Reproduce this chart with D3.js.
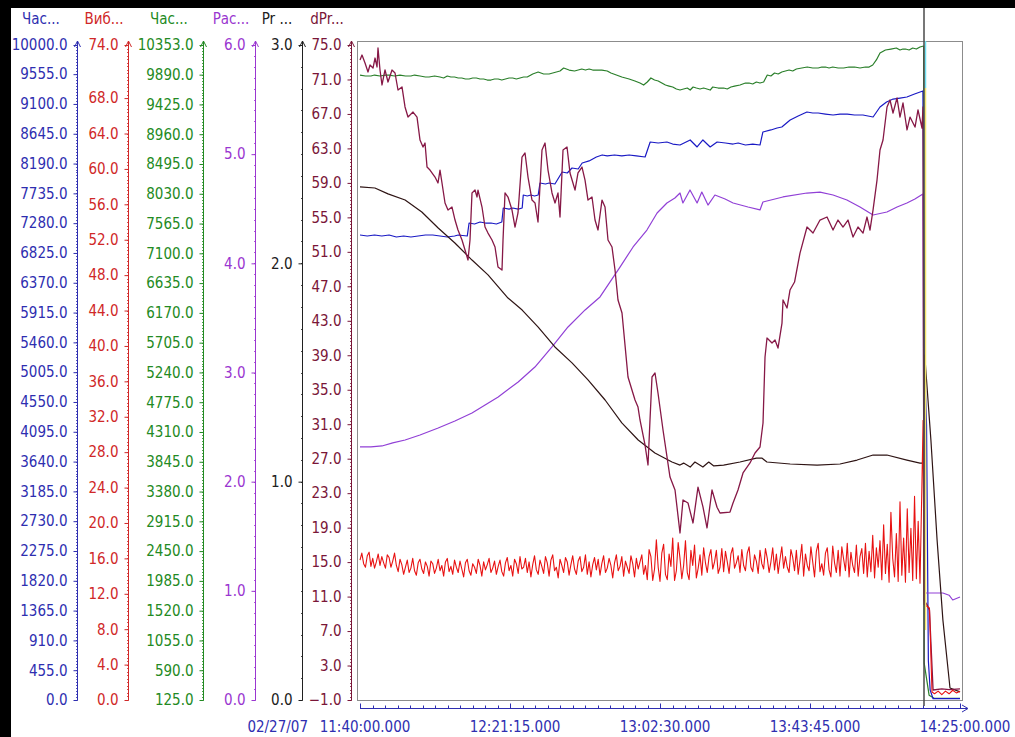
<!DOCTYPE html>
<html><head><meta charset="utf-8">
<script src="https://cdn.jsdelivr.net/npm/d3@7"></script>
<style>
body{margin:0;background:#fff;}
svg{display:block;}
text{font-family:"DejaVu Sans Condensed","Liberation Sans Narrow","DejaVu Sans",sans-serif;}
</style>
</head><body><svg id="c" width="1015" height="737"></svg>
<script>
// ---------------- DATA ----------------
const dateLabel = "02/27/07";
const startTime = [2007, 1, 27, 11, 40, 0];
const endTime = [2007, 1, 27, 14, 25, 0];
const xTickMinutes = [0, 41.25, 82.5, 123.75, 165];
const xTickLabels = ["11:40:00.000", "12:21:15.000", "13:02:30.000", "13:43:45.000", "14:25:00.000"];
const xMinorStep = 3.4375;
const cursorMinute = 155.1;

const axisNames = ["Час...", "Виб...", "Час...", "Рас...", "Pr ...", "dPr..."];
const axisDomains = [[0, 10000], [0, 74], [125, 10353], [0, 6], [0, 3], [-1, 75]];
const axisTicks = [
  [0,455,910,1365,1820,2275,2730,3185,3640,4095,4550,5005,5460,5915,6370,6825,7280,7735,8190,8645,9100,9555,10000],
  [0,4,8,12,16,20,24,28,32,36,40,44,48,52,56,60,64,68,74],
  [125,590,1055,1520,1985,2450,2915,3380,3845,4310,4775,5240,5705,6170,6635,7100,7565,8030,8495,8960,9425,9890,10353],
  [0,1,2,3,4,5,6],
  [0,1,2,3],
  [-1,3,7,11,15,19,23,27,31,35,39,43,47,51,55,59,63,67,71,75]
];
const axisMinorSteps = [45.5, 0.4, 46.5, 0.1, 0.1, 0.4];

// series: [minutes since 11:40, value]
const blueSeries = [[0,7099],[2,7084],[4,7099],[6,7084],[8,7099],[10,7069],[12,7084],[14,7069],[16,7084],[18,7099],[20,7099],[22,7084],[24,7069],[26,7084],[27,7099],[29.5,7084],[30,7282],[31.5,7267],[33,7298],[34.5,7282],[36,7282],[37.5,7267],[39,7298],[39.4,7511],[41,7495],[42,7511],[43.5,7495],[44.6,7511],[44.9,7710],[46,7695],[47,7710],[48,7695],[49,7710],[49.5,7893],[51,7878],[52,7893],[53.6,7878],[55.6,8061],[57,8046],[58.3,8122],[60,8107],[61.1,8198],[63,8230],[65,8290],[66.6,8321],[68,8306],[70,8321],[72,8306],[74,8321],[76,8306],[78.4,8290],[79.8,8519],[82,8504],[84.4,8519],[86,8488],[88,8473],[90.8,8550],[92.7,8443],[94.3,8550],[96.3,8443],[98.2,8519],[100.5,8504],[102.6,8488],[104,8504],[106,8473],[108,8488],[110,8473],[110.8,8672],[113,8703],[114.7,8733],[116,8748],[118.3,8855],[120.5,8916],[122.9,8977],[124.5,8962],[126,8962],[128,8946],[130.1,8931],[132,8946],[134,8946],[136,8931],[138.3,8931],[141.1,8901],[143,9053],[144.8,9130],[146.6,9175],[148.5,9190],[150.4,9206],[152.5,9252],[154.8,9298],
  [155.15,5340],[155.8,4200],[156.3,600],[156.8,150],[157.6,20],[165,20]];

const redStep = 0.5;
const redValues = [
 15.8,16.6,15.4,15.0,16.3,16.7,15.1,16.0,14.9,15.6,16.5,15.2,16.2,15.5,14.9,16.4,16.1,15.0,15.7,16.6,
 15.2,14.5,15.9,15.3,14.2,15.0,15.8,14.4,14.9,16.0,14.6,14.1,15.5,15.9,14.8,14.3,15.6,15.1,14.0,15.7,
 15.4,14.3,14.9,15.9,14.6,15.2,14.0,15.6,16.0,14.5,15.1,14.2,15.8,15.0,14.4,15.7,14.8,13.9,15.5,15.9,
 14.6,14.1,15.4,15.0,14.3,15.9,15.2,14.0,15.6,14.7,15.3,16.0,14.4,14.9,15.7,14.2,15.1,15.8,14.5,14.0,
 15.5,16.1,14.6,15.2,14.0,15.9,15.4,14.3,16.2,14.8,15.0,16.0,14.4,15.6,13.9,15.3,16.3,14.7,14.2,15.8,
 15.1,14.3,16.2,15.5,14.0,15.8,16.4,14.6,15.0,13.8,15.9,15.2,14.4,16.1,15.6,14.1,15.3,16.3,14.8,14.2,
 15.7,16.2,14.5,15.0,16.4,14.2,15.6,13.9,15.3,16.1,14.7,15.9,14.1,15.4,16.3,14.4,14.9,16.0,15.2,13.8,
 15.5,16.4,14.6,15.1,16.2,14.0,15.7,15.0,14.3,16.3,15.4,13.9,16.0,14.8,15.6,16.4,14.2,15.2,13.6,17.0,
 16.2,13.5,14.8,18.1,15.0,13.4,16.6,17.6,14.2,13.6,16.5,15.1,18.3,13.5,14.6,17.8,16.0,13.7,15.2,18.0,
 14.4,13.6,16.9,15.2,17.5,13.8,14.9,16.4,14.1,17.2,15.5,14.4,16.2,17.0,14.8,15.6,16.9,14.3,15.0,17.1,
 14.5,16.8,15.6,14.3,16.5,17.2,14.9,15.5,16.3,14.4,17.0,15.2,14.6,16.6,17.3,15.0,14.5,16.4,15.7,14.3,
 16.9,15.4,14.8,17.1,16.0,14.4,15.6,17.2,14.7,16.5,14.3,15.9,17.3,14.9,16.2,15.0,14.4,17.0,16.1,14.6,
 16.9,14.2,15.8,17.6,14.0,16.5,15.2,14.6,17.3,15.6,13.9,16.8,17.7,14.5,15.4,14.1,16.6,17.2,14.7,13.9,
 17.4,15.5,14.4,16.9,14.0,17.3,15.9,14.6,17.7,13.9,16.7,15.2,14.4,17.5,14.0,16.2,17.1,14.3,17.7,13.9,
 16.8,14.5,18.6,13.8,17.2,15.0,18.0,13.6,19.8,14.3,17.6,13.3,21.2,16.0,13.9,18.8,13.4,22.4,14.1,18.3,
 13.3,21.6,14.4,19.4,13.5,23.0,13.7,20.2,13.2,23.7
];
const redTail = [[154.85,31.6],[155.1,10.8],[156.6,10.4],[157.3,0.9],[158,0.7],[159,1.0],[160,0.6],[161,1.0],[162,0.7],[163,1.1],[164,0.8],[165,1.0]];

const greenSeries = [[0,9884],[1.5,9869],[3,9869],[4,9884],[5.5,9869],[7,9884],[8,9884],[9.5,9869],[11,9884],[12.5,9869],[14,9869],[15,9884],[16.5,9869],[18,9853],[19,9853],[20.5,9869],[22,9853],[23,9838],[24,9869],[25,9853],[26,9853],[27,9838],[28,9838],[29,9822],[30,9822],[31,9838],[32,9838],[33,9822],[34,9822],[35,9806],[36,9806],[37,9822],[38,9822],[39,9806],[40,9822],[41,9838],[42,9838],[43,9822],[44,9838],[45,9853],[46,9853],[47.5,9900],[49,9931],[50.5,9900],[52,9900],[53,9916],[54,9931],[55,9947],[56,9994],[57.5,9962],[59,9947],[60,9962],[61,9978],[62,9962],[63,9978],[64,9962],[65,9962],[66.5,9962],[68,9947],[69,9916],[70.5,9884],[72,9853],[73,9838],[74,9822],[75.6,9791],[77,9759],[78,9728],[79,9775],[80,9838],[81,9806],[82,9791],[83,9759],[84,9728],[85,9712],[86,9697],[87,9666],[88,9650],[89,9666],[90,9681],[90.8,9650],[91.6,9697],[92.5,9681],[93.5,9666],[94.5,9681],[95.4,9666],[96.3,9650],[97,9697],[98.5,9681],[100,9681],[101,9666],[102,9697],[103,9712],[104.5,9728],[106,9759],[107,9759],[108,9744],[109,9775],[110,9759],[111,9775],[112,9884],[113,9869],[114,9916],[115,9900],[116,9931],[117,9947],[118,9962],[119,9947],[120,9978],[121.5,9994],[123,10009],[124.5,9994],[126,9994],[127,10009],[128,10009],[129,9994],[130,10009],[131.5,9994],[133,9994],[134.5,10009],[136,10009],[137.5,9994],[139,10009],[140,10009],[141,10041],[142,10120],[143,10228],[144.5,10275],[146,10290],[147.5,10306],[148.5,10275],[149.3,10290],[150,10290],[151,10275],[152,10306],[153,10290],[154,10322],[155,10337],
  [155.15,700],[156.5,200],[158,150],[165,150]];

const purpleSeries = [[0,2.318],[3,2.318],[6.05,2.327],[9,2.355],[12.4,2.382],[16.5,2.427],[21.5,2.492],[26.1,2.556],[30.8,2.629],[34.4,2.702],[38,2.776],[43.5,2.913],[48.1,3.050],[52.8,3.234],[57.2,3.417],[61.9,3.573],[66,3.692],[71.5,3.966],[75.1,4.150],[78.9,4.305],[81.7,4.461],[84.4,4.553],[86.6,4.598],[88,4.644],[88.8,4.553],[90.75,4.672],[92.7,4.553],[94,4.653],[95.7,4.534],[97.6,4.626],[100.4,4.589],[102.6,4.553],[106.7,4.516],[110,4.489],[110.8,4.562],[116.3,4.608],[122.9,4.644],[126.5,4.653],[130.1,4.626],[133.9,4.580],[137.5,4.516],[141.1,4.443],[144.9,4.470],[147.7,4.516],[150.4,4.553],[152.6,4.589],[154.8,4.635],
  [155.15,0.98],[160.3,0.98],[162,0.96],[163,0.916],[165,0.943]];

const prSeries = [[0,2.350],[4.1,2.345],[7.7,2.318],[12.4,2.290],[17,2.235],[21.5,2.162],[26.1,2.093],[30.8,2.015],[35.2,1.947],[40.7,1.841],[44.6,1.786],[49,1.708],[53.6,1.617],[58.3,1.544],[62.7,1.466],[67.4,1.374],[72,1.269],[76.5,1.191],[81.1,1.131],[85.8,1.090],[88,1.076],[89,1.085],[90.8,1.067],[92.1,1.090],[94.3,1.067],[95.9,1.090],[97.3,1.072],[100,1.076],[104.5,1.090],[109,1.108],[110.5,1.108],[111.9,1.090],[118.3,1.081],[125.7,1.076],[132,1.081],[136.7,1.099],[141.1,1.122],[144.9,1.122],[150.4,1.099],[154,1.085],[154.9,1.085],
  [155.3,1.580],[157,1.191],[158.7,0.733],[160.3,0.366],[162.25,0.055],[165,0.037]];

const dprSeries = [[0,73.26],[0.55,73.84],[1.38,72.91],[2.2,71.87],[2.75,72.68],[3.58,72.33],[4.13,73.49],[4.68,72.45],[4.95,74.65],[5.5,72.10],[6.05,70.36],[6.88,72.10],[7.7,70.71],[8.8,72.10],[9.63,71.75],[10.45,69.78],[11.55,70.13],[12.38,67.81],[13.2,66.64],[14.58,67.22],[15.68,66.64],[16.5,63.98],[17.33,63.16],[17.88,63.63],[18.43,60.84],[19.25,60.49],[20.63,59.68],[21.45,58.99],[22,60.49],[22.55,58.99],[23.38,56.67],[24.2,55.85],[25.3,56.20],[26.13,54.69],[26.95,53.53],[28.05,52.37],[28.88,51.21],[29.7,50.05],[30.25,52.37],[30.8,57.83],[31.63,58.17],[32.18,57.36],[32.45,58.17],[33.55,56.20],[34.38,53.88],[35.2,53.18],[36.3,52.37],[37.13,51.56],[37.95,49.24],[39.05,48.89],[39.33,52.37],[39.88,57.83],[40.7,57.36],[41.8,55.85],[42.63,53.88],[43.45,55.51],[44.55,62.00],[45.38,62.47],[46.2,59.68],[47.3,57.01],[48.13,56.67],[48.95,54.46],[50.05,62.82],[50.88,63.63],[51.7,60.49],[52.8,57.83],[53.63,56.67],[54.45,57.83],[55,55.04],[55.83,62.82],[56.93,63.16],[57.75,60.15],[59.13,58.17],[59.95,60.15],[61.05,60.84],[61.88,59.33],[62.7,57.01],[63.8,57.36],[64.63,54.69],[65.45,53.53],[66.55,57.01],[67.38,56.20],[68.2,52.37],[69.3,51.56],[70.13,48.89],[70.95,45.41],[72.05,43.90],[73.7,36.48],[75.63,33.81],[76.45,32.99],[77,31.49],[78.38,28.59],[79.2,26.27],[79.75,31.49],[80.3,36.48],[81.13,36.94],[81.95,34.62],[83.33,30.33],[85.25,24.87],[86.63,23.37],[88,18.38],[88.83,22.21],[90.2,21.86],[91.58,19.54],[92.95,23.71],[94.33,21.37],[95.43,18.96],[96.8,23.37],[98.18,21.37],[99,20.70],[101.75,20.81],[102.58,21.86],[103.95,23.37],[105.33,25.34],[107.25,26.50],[108.63,27.66],[110,28.36],[110.83,31.14],[111.38,38.80],[111.93,41.00],[113.3,40.42],[114.13,40.77],[114.95,39.84],[116.05,42.74],[116.33,45.41],[117.43,44.48],[118.25,46.57],[119.5,47.5],[121,50.86],[122.93,53.88],[124.58,53.18],[126.5,54.69],[128.43,55.04],[130.08,53.53],[131.45,54.69],[132.83,53.88],[134.2,54.69],[135.58,52.72],[136.95,53.88],[138.33,53.18],[139.43,55.04],[140.25,53.53],[141.08,55.85],[142.18,59.33],[143,62.82],[143.83,63.98],[144.93,67.81],[145.75,68.62],[146.58,67.11],[147.68,68.85],[148.5,66.64],[149.33,68.27],[150.43,65.14],[151.25,66.64],[152.63,65.48],[153.45,67.46],[154.55,65.37],[154.83,67.81],
  [155.1,10.60],[156,10.0],[156.6,9.4],[157.6,0.16],[160,0.3],[162,0.2],[165,0.3]];

// ---------------- LAYOUT / STYLE ----------------
const W = 1015, H = 737;
const plotLeft = 357.5, plotRight = 962.5, plotTop = 41.5, plotBottom = 700.5;
const xRange = [360, 960];
const yRange = [700, 45];
const axisX = [77, 128, 203, 255, 302, 351];
const headerX = [41, 104, 169, 231, 277, 327];
const axisColors = ["#2e2eb0", "#d02828", "#238a23", "#9a36d0", "#202020", "#7a1638"];
const fontSize = 15;

const svg = d3.select("#c");
svg.append("rect").attr("width", W).attr("height", H).attr("fill", "#fff");
svg.append("rect").attr("x", 0).attr("y", 0).attr("width", W).attr("height", 8).attr("fill", "#000");
svg.append("rect").attr("x", 0).attr("y", 0).attr("width", 11).attr("height", H).attr("fill", "#000");

const base = new Date(...startTime);
const x = d3.scaleTime().domain([base, new Date(...endTime)]).range(xRange);
const toDate = m => new Date(base.getTime() + m * 60000);

// plot frame
svg.append("rect").attr("x", plotLeft).attr("y", plotTop)
  .attr("width", plotRight - plotLeft).attr("height", plotBottom - plotTop)
  .attr("fill", "#fff").attr("stroke", "#8c8c8c").attr("stroke-width", 1);

// y axes
const yScales = axisDomains.map((dom, i) => {
  const y = d3.scaleLinear().domain(dom).range(yRange);
  const col = axisColors[i];
  const g = svg.append("g").attr("transform", `translate(${axisX[i] + 0.5},0)`);
  g.call(d3.axisLeft(y).tickValues(axisTicks[i]).tickFormat(d3.format(".1f"))
    .tickSizeInner(4).tickSizeOuter(0).tickPadding(6));
  g.attr("font-family", null).attr("font-size", null);
  g.select(".domain").remove();
  g.selectAll(".tick line").attr("stroke", col);
  g.selectAll(".tick text").attr("fill", col).style("font-size", fontSize + "px");
  const minors = d3.range(dom[0], dom[1] + 1e-9, axisMinorSteps[i]);
  g.selectAll(".mn").data(minors).join("line").attr("class", "mn")
    .attr("x1", -1.5).attr("x2", 0)
    .attr("y1", d => Math.round(y(d)) + 0.5).attr("y2", d => Math.round(y(d)) + 0.5)
    .attr("stroke", col).attr("stroke-width", 1).attr("stroke-opacity", 0.8);
  g.append("line").attr("x1", 0).attr("x2", 0).attr("y1", 41).attr("y2", 700.5)
    .attr("stroke", col).attr("stroke-width", 1);
  g.append("path").attr("d", "M-3,47L0,41L3,47").attr("fill", "none")
    .attr("stroke", col).attr("stroke-width", 1);
  svg.append("text").attr("x", headerX[i]).attr("y", 24).attr("text-anchor", "middle")
    .attr("fill", col).style("font-size", fontSize + "px").text(axisNames[i]);
  return y;
});

// x axis
const xAxisY = 708.5;
const xCol = "#2e2eb0";
const gx = svg.append("g").attr("transform", `translate(0,${xAxisY})`);
gx.selectAll(".mn").data(d3.range(0, 165 + 1e-9, xMinorStep)).join("line")
  .attr("x1", d => Math.round(x(toDate(d))) + 0.5).attr("x2", d => Math.round(x(toDate(d))) + 0.5)
  .attr("y1", 0).attr("y2", -3).attr("stroke", xCol);
gx.selectAll(".mj").data(xTickMinutes).join("line")
  .attr("x1", d => Math.round(x(toDate(d))) + 0.5).attr("x2", d => Math.round(x(toDate(d))) + 0.5)
  .attr("y1", 0).attr("y2", -5).attr("stroke", xCol);
gx.append("line").attr("x1", xRange[0]).attr("x2", 967).attr("y1", 0).attr("y2", 0).attr("stroke", xCol);
gx.append("path").attr("d", "M962,-3.5L968,0L962,3.5").attr("fill", "none").attr("stroke", xCol);
svg.selectAll(".xl").data(xTickMinutes).join("text")
  .attr("x", d => x(toDate(d)) + 5).attr("y", 732).attr("text-anchor", "middle")
  .attr("fill", xCol).style("font-size", "15px").text((d, i) => xTickLabels[i]);
svg.append("text").attr("x", 308).attr("y", 732).attr("text-anchor", "end")
  .attr("fill", xCol).style("font-size", "15px").text(dateLabel);

// series
const redSeries = redValues.map((v, i) => [i * redStep, v]).concat(redTail);
const seriesDefs = [
  {data: greenSeries, axis: 2, color: "#2a7f2a", w: 1.2},
  {data: blueSeries, axis: 0, color: "#1a1ac4", w: 1.2},
  {data: purpleSeries, axis: 3, color: "#9140d6", w: 1.2},
  {data: prSeries, axis: 4, color: "#2e1414", w: 1.2},
  {data: dprSeries, axis: 5, color: "#861846", w: 1.3},
  {data: redSeries, axis: 1, color: "#e81212", w: 1.1}
];
seriesDefs.forEach(s => {
  const y = yScales[s.axis];
  const line = d3.line().x(d => x(toDate(d[0]))).y(d => y(d[1]));
  svg.append("path").datum(s.data).attr("d", line).attr("fill", "none")
    .attr("stroke", s.color).attr("stroke-width", s.w).attr("stroke-linejoin", "round");
});

// cursor
const cx = Math.round(x(toDate(cursorMinute)));
svg.append("line").attr("x1", cx + 1.5).attr("x2", cx + 1.5).attr("y1", 41).attr("y2", 88)
  .attr("stroke", "#6fe2f2").attr("stroke-width", 1.5);
svg.append("line").attr("x1", cx + 1.5).attr("x2", cx + 1.5).attr("y1", 88).attr("y2", 630)
  .attr("stroke", "#f2e46a").attr("stroke-width", 1.5);
svg.append("line").attr("x1", cx).attr("x2", cx).attr("y1", 8).attr("y2", 706)
  .attr("stroke", "#4a4a4a").attr("stroke-width", 1.5);
</script></body></html>
